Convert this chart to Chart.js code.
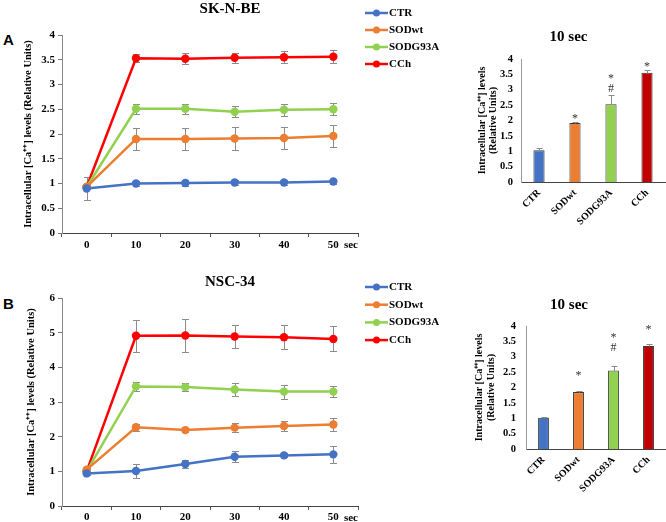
<!DOCTYPE html>
<html>
<head>
<meta charset="utf-8">
<script src="https://cdn.jsdelivr.net/npm/chart.js@4.4.1/dist/chart.umd.min.js"></script>
<style>
  body { margin: 0; background: #fff; width: 666px; height: 522px; position: relative; overflow: hidden; }
  canvas { position: absolute; }
  .tag { position: absolute; font: bold 15px "Liberation Sans", Arial, sans-serif; line-height: 17px; }
</style>
</head>
<body>
<div class="tag" style="left:3px;top:31px">A</div>
<div class="tag" style="left:3px;top:295px">B</div>
<canvas id="lineA" width="460" height="260" style="left:0;top:0"></canvas>
<canvas id="barA" width="194" height="240" style="left:472px;top:20px"></canvas>
<canvas id="lineB" width="460" height="262" style="left:0;top:260px"></canvas>
<canvas id="barB" width="194" height="237" style="left:472px;top:285px"></canvas>
<script>
// time points (sec) and groups
var times = ['0', '10', '20', '30', '40', '50'];
var groups = ['CTR', 'SODwt', 'SODG93A', 'CCh'];

// SK-N-BE time course
var skCTR = [0.90, 1.00, 1.01, 1.02, 1.02, 1.04];
var skCTRErr = [0.23, 0.06, 0.06, 0.06, 0.06, 0.06];
var skSODwt = [0.93, 1.90, 1.90, 1.91, 1.92, 1.96];
var skSODwtErr = [0.05, 0.22, 0.22, 0.23, 0.23, 0.22];
var skG93A = [0.93, 2.51, 2.51, 2.45, 2.49, 2.50];
var skG93AErr = [0.05, 0.10, 0.10, 0.11, 0.12, 0.12];
var skCCh = [0.93, 3.53, 3.52, 3.54, 3.55, 3.56];
var skCChErr = [0.05, 0.08, 0.11, 0.10, 0.12, 0.13];

// NSC-34 time course
var nscCTR = [0.94, 1.01, 1.21, 1.42, 1.46, 1.49];
var nscCTRErr = [0.04, 0.19, 0.11, 0.16, 0.06, 0.24];
var nscSODwt = [1.05, 2.27, 2.19, 2.26, 2.31, 2.35];
var nscSODwtErr = [0.05, 0.10, 0.05, 0.12, 0.15, 0.18];
var nscG93A = [1.00, 3.45, 3.43, 3.36, 3.30, 3.30];
var nscG93AErr = [0.05, 0.12, 0.12, 0.19, 0.20, 0.16];
var nscCCh = [1.00, 4.91, 4.92, 4.89, 4.87, 4.82];
var nscCChErr = [0.05, 0.46, 0.48, 0.33, 0.34, 0.36];

// 10 sec bars
var skBar = [1.03, 1.92, 2.53, 3.55];
var skBarErr = [0.09, 0.04, 0.31, 0.10];
var nscBar = [1.02, 1.85, 2.55, 3.35];
var nscBarErr = [0.02, 0.03, 0.15, 0.05];
var barMarks = [[], ['*'], ['*', '#'], ['*']];

var yTicksA = [0, 4, 0.5];
var yTicksB = [0, 6, 1];

var lineColors = ['#4472C4', '#ED7D31', '#92D050', '#FF0000'];
var barColors = ['#4472C4', '#ED7D31', '#92D050', '#C00000'];
var SERIF = '"Liberation Serif", "Times New Roman", serif';
var yTitle = 'Intracellular [Ca\u207A\u207A] levels (Relative Units)';

Chart.defaults.color = '#000';
Chart.defaults.animation = false;

function plainTick(v) { return String(v); }

function drawErrors(chart, o) {
  var ctx = chart.ctx, ys = chart.scales.y;
  ctx.save();
  ctx.strokeStyle = o.color;
  ctx.lineWidth = 1;
  chart.data.datasets.forEach(function (ds, i) {
    if (!ds.errors) return;
    chart.getDatasetMeta(i).data.forEach(function (el, j) {
      var v = ds.data[j], e = ds.errors[j];
      var top = Math.round(ys.getPixelForValue(v + e)) + 0.5;
      var bot = Math.round(ys.getPixelForValue(o.upOnly ? v : v - e)) + 0.5;
      var x = Math.round(el.x) + 0.5;
      ctx.beginPath();
      ctx.moveTo(x, top); ctx.lineTo(x, bot);
      ctx.moveTo(x - o.cap, top); ctx.lineTo(x + o.cap, top);
      if (!o.upOnly) { ctx.moveTo(x - o.cap, bot); ctx.lineTo(x + o.cap, bot); }
      ctx.stroke();
    });
  });
  ctx.restore();
}

var errorBars = {
  id: 'errorBars',
  beforeDatasetsDraw: function (chart, args, o) { if (!o.front) drawErrors(chart, o); },
  afterDatasetsDraw: function (chart, args, o) { if (o.front) drawErrors(chart, o); }
};

var lineLegend = {
  id: 'lineLegend',
  afterDraw: function (chart, args, o) {
    var ctx = chart.ctx;
    ctx.save();
    ctx.font = 'bold 11px ' + SERIF;
    ctx.textBaseline = 'middle';
    chart.data.datasets.forEach(function (ds, i) {
      var y = o.y + i * o.step;
      ctx.strokeStyle = ds.borderColor;
      ctx.lineWidth = 2.5;
      ctx.beginPath(); ctx.moveTo(o.x, y); ctx.lineTo(o.x + 23, y); ctx.stroke();
      ctx.fillStyle = ds.borderColor;
      ctx.beginPath(); ctx.arc(o.x + 11.5, y, 3.5, 0, Math.PI * 2); ctx.fill();
      ctx.fillStyle = '#000';
      ctx.fillText(ds.label, o.x + 24, y);
    });
    ctx.restore();
  }
};

var sigMarks = {
  id: 'sigMarks',
  afterDatasetsDraw: function (chart, args, o) {
    var ctx = chart.ctx, ys = chart.scales.y, ds = chart.data.datasets[0];
    ctx.save();
    ctx.font = '12px ' + SERIF;
    ctx.fillStyle = '#333';
    ctx.textAlign = 'center';
    ctx.textBaseline = 'middle';
    chart.getDatasetMeta(0).data.forEach(function (el, j) {
      var marks = o.marks[j];
      var top = ys.getPixelForValue(ds.data[j] + ds.errors[j]);
      for (var k = 0; k < marks.length; k++) {
        var m = marks[marks.length - 1 - k];
        var y = top - o.gap - k * o.step + (m === '*' ? 3 : 0);
        ctx.fillText(m, el.x, y);
      }
    });
    ctx.restore();
  }
};

function lineChart(id, title, series, errs, yt, L) {
  return new Chart(document.getElementById(id), {
    type: 'line',
    data: {
      labels: times,
      datasets: groups.map(function (g, i) {
        return {
          label: g, data: series[i], errors: errs[i],
          borderColor: lineColors[i], backgroundColor: lineColors[i],
          borderWidth: 2.5, pointRadius: 4.2, pointBorderWidth: 0, tension: 0
        };
      })
    },
    plugins: [errorBars, lineLegend],
    options: {
      responsive: false,
      devicePixelRatio: 1,
      layout: { padding: 0 },
      plugins: {
        legend: { display: false },
        tooltip: { enabled: false },
        title: {
          display: true, text: title, color: '#000',
          font: { family: SERIF, size: 15, weight: 'bold' },
          padding: { top: L.titleTop, bottom: L.titleBottom }
        },
        errorBars: { color: '#8c8c8c', cap: 3.5, front: false },
        lineLegend: { x: 365, y: L.legendY, step: L.legendStep }
      },
      scales: {
        x: {
          type: 'category', offset: true,
          grid: { display: true, drawOnChartArea: false, drawTicks: true, tickLength: 4, offset: true, color: '#555' },
          border: { color: '#444', width: 1 },
          ticks: { font: { family: SERIF, size: 11, weight: 'bold' }, padding: L.xPad, maxRotation: 0, autoSkip: false },
          title: {
            display: true, text: 'sec', align: 'end',
            font: { family: SERIF, size: 11, weight: 'bold' },
            padding: { top: 0, bottom: L.secPad }
          },
          afterFit: function (s) { s.height = L.xHeight; }
        },
        y: {
          min: yt[0], max: yt[1],
          grid: { display: true, drawOnChartArea: false, drawTicks: true, tickLength: 4, color: '#777' },
          border: { color: '#888', width: 1 },
          ticks: { stepSize: yt[2], font: { family: SERIF, size: 11, weight: 'bold' }, padding: 3, callback: plainTick, autoSkip: false },
          title: {
            display: true, text: yTitle,
            font: { family: SERIF, size: 10.5, weight: 'bold', lineHeight: 1.2 },
            padding: { top: L.yTitleLeft, bottom: 0 }
          },
          afterFit: function (s) { s.width = 62; }
        },
        pad: {
          type: 'linear', position: 'right', display: true,
          grid: { display: false }, border: { display: false }, ticks: { display: false },
          afterFit: function (s) { s.width = 102; }
        }
      }
    }
  });
}

function barChart(id, values, errs, L) {
  return new Chart(document.getElementById(id), {
    type: 'bar',
    data: {
      labels: groups,
      datasets: [{
        data: values, errors: errs,
        backgroundColor: barColors, borderColor: '#3a3a3a', borderWidth: 1,
        categoryPercentage: 1, barPercentage: 0.31
      }]
    },
    plugins: [errorBars, sigMarks],
    options: {
      responsive: false,
      devicePixelRatio: 1,
      layout: { padding: { right: L.right } },
      plugins: {
        legend: { display: false },
        tooltip: { enabled: false },
        title: {
          display: true, text: '10 sec', color: '#000',
          font: { family: SERIF, size: 15, weight: 'bold' },
          padding: { top: L.titleTop, bottom: L.titleBottom }
        },
        errorBars: { color: '#8c8c8c', cap: 3, front: true, upOnly: true },
        sigMarks: { marks: barMarks, gap: L.markGap, step: 13 }
      },
      scales: {
        x: {
          grid: { display: false, drawTicks: false },
          border: { color: '#444', width: 1 },
          ticks: { font: { family: SERIF, size: 10, weight: 'bold' }, minRotation: 45, maxRotation: 45, padding: 5, autoSkip: false },
          afterFit: function (s) { s.height = L.xHeight; }
        },
        y: {
          min: 0, max: 4,
          grid: { display: false, drawTicks: false },
          border: { color: '#999', width: 1 },
          ticks: { stepSize: 0.5, font: { family: SERIF, size: 10.5, weight: 'bold' }, padding: L.yPad, callback: plainTick, autoSkip: false },
          title: {
            display: true, text: ['Intracellular [Ca\u207A\u207A] levels', '(Relative Units)'],
            font: { family: SERIF, size: 10, weight: 'bold', lineHeight: 1.15 },
            padding: { top: L.yTitleLeft, bottom: 0 }
          },
          afterFit: function (s) { s.width = L.yWidth; }
        }
      }
    }
  });
}

lineChart('lineA', 'SK-N-BE',
  [skCTR, skSODwt, skG93A, skCCh], [skCTRErr, skSODwtErr, skG93AErr, skCChErr], yTicksA,
  { titleTop: 0, titleBottom: 17, legendY: 13, legendStep: 17, xPad: 1.5, secPad: 8.4, xHeight: 27, yTitleLeft: 22 });

lineChart('lineB', 'NSC-34',
  [nscCTR, nscSODwt, nscG93A, nscCCh], [nscCTRErr, nscSODwtErr, nscG93AErr, nscCChErr], yTicksB,
  { titleTop: 13, titleBottom: 7, legendY: 27, legendStep: 17.7, xPad: 1, secPad: -2.3, xHeight: 16, yTitleLeft: 25 });

barChart('barA', skBar, skBarErr,
  { right: 1, titleTop: 8, titleBottom: 13, xHeight: 78, yWidth: 49, yPad: 8, yTitleLeft: 4.5, markGap: 6 });

barChart('barB', nscBar, nscBarErr,
  { right: 0, titleTop: 11, titleBottom: 12, xHeight: 73, yWidth: 54, yPad: 10, yTitleLeft: 2, markGap: 18 });
</script>
</body>
</html>
